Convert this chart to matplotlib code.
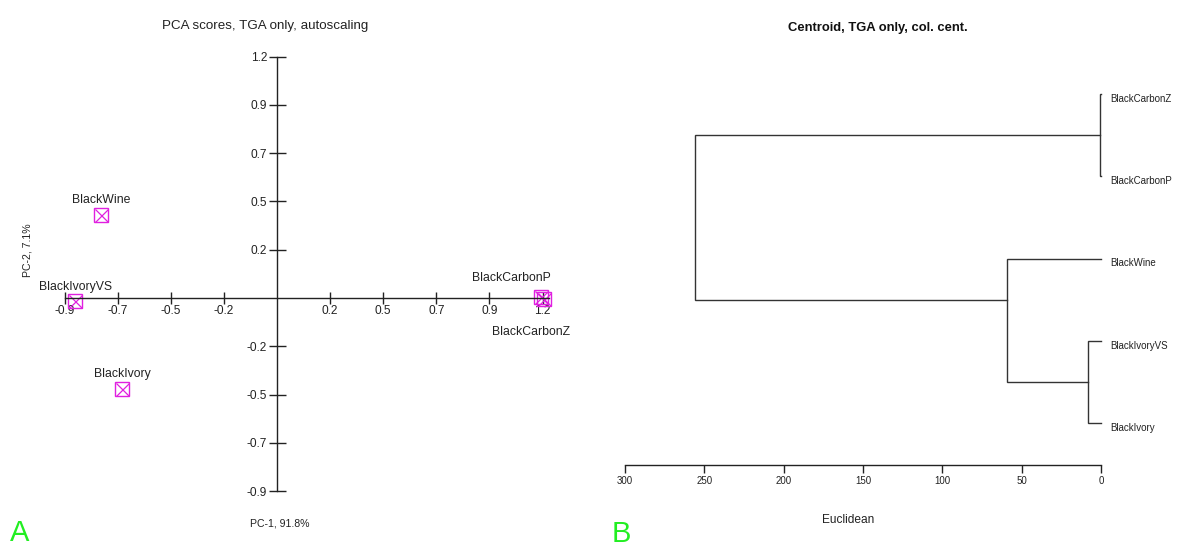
import numpy as np
import matplotlib
matplotlib.use('Agg')
import matplotlib.pyplot as plt

plt.rcParams['font.family'] = ['Liberation Sans', 'DejaVu Sans']

# PCA scores
samples = ['BlackWine', 'BlackIvoryVS', 'BlackIvory', 'BlackCarbonP', 'BlackCarbonZ']
pc1 = [-0.777, -0.892, -0.686, 1.168, 1.182]
pc2 = [0.404, -0.015, -0.443, 0.005, -0.005]
# label offsets in pixels (dx, dy)
label_off = [(0, 15), (0, 14), (0, 15), (-30, 19), (-13, -33)]

TICK_STEP = 0.235
x_ticklabels = ['-0.9', '-0.7', '-0.5', '-0.2', '0.2', '0.5', '0.7', '0.9', '1.2']
y_ticklabels = ['-0.9', '-0.7', '-0.5', '-0.2', '0.2', '0.5', '0.7', '0.9', '1.2']
tick_idx = [-4, -3, -2, -1, 1, 2, 3, 4, 5]

# dendrogram (centroid linkage, euclidean)
leaves = ['BlackCarbonZ', 'BlackCarbonP', 'BlackWine', 'BlackIvoryVS', 'BlackIvory']
links = [(0, 1, 0.6), (3, 4, 8.2), (2, 6, 59.2), (5, 7, 255.8)]
node_y = [0.5, 3.5, 2.5, 1.5]
dist_ticks = [300, 250, 200, 150, 100, 50, 0]

W, H = 1200, 547
PX = 0.72  # points per pixel at dpi 100
fig = plt.figure(figsize=(12, 5.47), dpi=100)

def fig_rect(x0, y0, x1, y1):
    return [x0 / W, 1 - y1 / H, (x1 - x0) / W, (y1 - y0) / H]

# ---------- panel A ----------
ax = fig.add_axes(fig_rect(30, 40, 580, 510))
fx = TICK_STEP / 53.1
fy = TICK_STEP / 48.3
ax.set_xlim((30 - 277) * fx, (580 - 277) * fx)
ax.set_ylim((298 - 510) * fy, (298 - 40) * fy)
ax.patch.set_visible(False)
for s in ['top', 'right']:
    ax.spines[s].set_visible(False)
ax.spines['left'].set_position(('data', 0))
ax.spines['bottom'].set_position(('data', 0))
ax.spines['left'].set_bounds(-4 * TICK_STEP, 5 * TICK_STEP)
ax.spines['bottom'].set_bounds(-4 * TICK_STEP, 5 * TICK_STEP + 0.03)
for s in ['left', 'bottom']:
    ax.spines[s].set_color('#222222')
    ax.spines[s].set_linewidth(1.0)

tpos = [k * TICK_STEP for k in tick_idx]
ax.set_xticks(tpos, x_ticklabels)
ax.set_yticks(tpos, y_ticklabels)
ax.tick_params(axis='x', direction='inout', length=12 * PX, width=1.0, color='#222222',
               labelsize=8.6, labelcolor='#222222', pad=1)
ax.tick_params(axis='y', direction='inout', length=17 * PX, width=1.0, color='#222222',
               labelsize=8.6, labelcolor='#222222', pad=1)

ax.plot(pc1, pc2, linestyle='none', marker='s', markersize=14 * PX,
        markerfacecolor='none', markeredgecolor='#e020e0', markeredgewidth=1.0)
ax.plot(pc1, pc2, linestyle='none', marker='x', markersize=13 * PX,
        markeredgecolor='#e020e0', markeredgewidth=0.9)
for name, x, y, (dx, dy) in zip(samples, pc1, pc2, label_off):
    ax.annotate(name, (x, y), xytext=(dx * PX, dy * PX), textcoords='offset points',
                ha='center', va='center', fontsize=8.8, color='#222222')

fig.text(265 / W, 1 - 26 / H, 'PCA scores, TGA only, autoscaling',
         ha='center', va='center', fontsize=9.6, color='#222222')
fig.text(28 / W, 1 - 250 / H, 'PC-2, 7.1%', rotation=90,
         ha='center', va='center', fontsize=7.6, color='#222222')
fig.text(280 / W, 1 - 523 / H, 'PC-1, 91.8%',
         ha='center', va='center', fontsize=7.6, color='#222222')
fig.text(20 / W, 1 - 533 / H, 'A', ha='center', va='center',
         fontsize=21, color='#22ee22')

# ---------- panel B ----------
bx = fig.add_axes(fig_rect(625, 70, 1101, 465))
leaf_px = 82.25
bx.set_xlim(300, 0)
bx.set_ylim((465 - 94) / leaf_px, (70 - 94) / leaf_px)
bx.patch.set_visible(False)
for s in ['top', 'right', 'left']:
    bx.spines[s].set_visible(False)
bx.spines['bottom'].set_color('#222222')
bx.spines['bottom'].set_linewidth(1.0)
bx.set_yticks([])
bx.set_xticks(dist_ticks, [str(t) for t in dist_ticks])
bx.tick_params(axis='x', direction='out', length=8 * PX, width=1.0, color='#222222',
               labelsize=7, labelcolor='#222222', pad=2)

n = len(leaves)
pos = list(range(n))
height = [0.0] * n
for (a, b, h), ny in zip(links, node_y):
    ya, yb = pos[a], pos[b]
    bx.plot([height[a], h, h, height[b]], [ya, ya, yb, yb],
            color='#333333', lw=1.0, solid_joinstyle='miter', clip_on=False)
    pos.append(ny)
    height.append(h)

for i, name in enumerate(leaves):
    bx.annotate(name, (0, i), xytext=(9 * PX, -5 * PX), textcoords='offset points',
                ha='left', va='center', fontsize=7, color='#222222', annotation_clip=False)

fig.text(878 / W, 1 - 28 / H, 'Centroid, TGA only, col. cent.',
         ha='center', va='center', fontsize=9.4, fontweight='bold', color='#111111')
fig.text(848 / W, 1 - 520 / H, 'Euclidean', ha='center', va='center',
         fontsize=8.6, color='#222222')
fig.text(621 / W, 1 - 534 / H, 'B', ha='center', va='center',
         fontsize=21, color='#22ee22')

fig.savefig('out.png', dpi=100)
